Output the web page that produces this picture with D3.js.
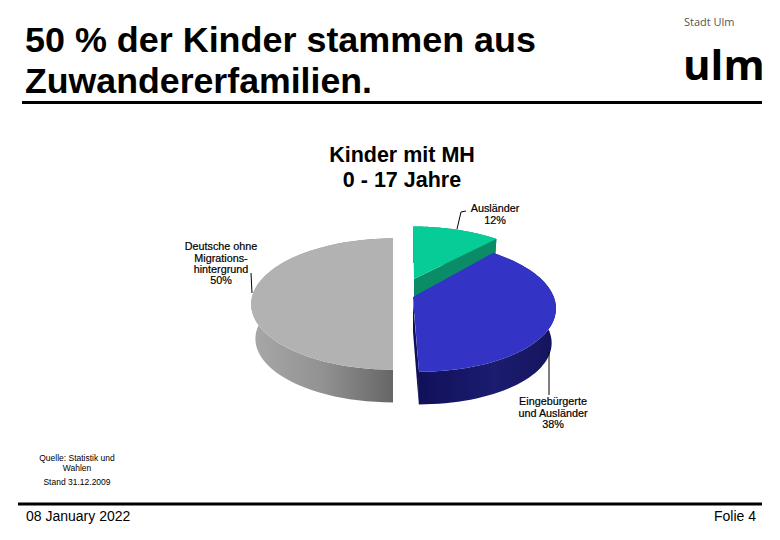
<!DOCTYPE html>
<html><head><meta charset="utf-8">
<script src="https://cdn.jsdelivr.net/npm/d3@7/dist/d3.min.js"></script>
<style>html,body{margin:0;padding:0;background:#fff}svg{display:block}text{font-family:"Liberation Sans",Arial,sans-serif;fill:#000}</style>
</head><body><svg id="c" width="780" height="540"></svg>
<script>
// ---- data ----
const categories = ["Ausländer", "Eingebürgerte und Ausländer", "Deutsche ohne Migrationshintergrund"];
const shares = [12, 38, 50];
const shareLabels = ["12%", "38%", "50%"];
const headingLines = ["50 % der Kinder stammen aus", "Zuwandererfamilien."];
const chartTitleLines = ["Kinder mit MH", "0 - 17 Jahre"];
const sourceLines = ["Quelle: Statistik und", "Wahlen", "Stand 31.12.2009"];
const labelLines = [["Ausländer"], ["Eingebürgerte", "und Ausländer"], ["Deutsche ohne", "Migrations-", "hintergrund"]];
const topColors = ["#06cd98", "#3333c6", "#b2b2b2"];

// ---- layout ----
const svg = d3.select("#c");
const defs = svg.append("defs");
function grad(id, stops){
  const g = defs.append("linearGradient").attr("id", id).attr("x1",0).attr("x2",1).attr("y1",0).attr("y2",0);
  stops.forEach(([o,c])=>g.append("stop").attr("offset",o).attr("stop-color",c));
}
grad("gSide0",[[0,"#0a8c66"],[1,"#0a8c66"]]);
grad("gSide1",[[0,"#10105a"],[0.55,"#1c1c70"],[1,"#14145c"]]);
grad("gSide2",[[0,"#a8a8a8"],[0.5,"#929292"],[1,"#666666"]]);

// perspective model of the exploded pie
const A = 139, B = 63, K = 0.2, DEPTH = 35, SHRINK = 0.97;
const sliceGeom = [
  {cx:414, cy:279, apexDy:0, shear:-1},
  {cx:413, cy:293, apexDy:4, shear:-4.8},
  {cx:393, cy:291, apexDy:0, shear:0}
];
const pie = d3.pie().value(d=>d).sort(null).startAngle(0).endAngle(2*Math.PI);
const arcs = pie(shares);

function rimPoint(g, a, lower){
  const x = Math.sin(a), y = Math.cos(a), w = 1 + K*y, s = lower ? SHRINK : 1;
  return [g.cx + s*(A*x + g.shear*y)/w, g.cy + (lower?DEPTH:0) - s*B*y/w];
}
const line = d3.line();
function rim(g, a0, a1, lower){
  return d3.range(0, 61).map(i => rimPoint(g, a0 + (a1-a0)*i/60, lower));
}

const order = [2, 0, 1];
const pieG = svg.append("g");
order.forEach(i=>{
  const d = arcs[i], g = sliceGeom[i];
  const up = rim(g, d.startAngle, d.endAngle, false);
  const lo = rim(g, d.startAngle, d.endAngle, true);
  const sideFill = "url(#gSide"+i+")";
  // outer wall
  pieG.append("path").attr("d", line(up.concat(lo.slice().reverse()))+"Z").attr("fill", sideFill);
  // cut faces
  const apex = [g.cx, g.cy+g.apexDy], apexLo = [g.cx, g.cy+g.apexDy+DEPTH];
  if(i===0) pieG.append("path").attr("d", line([apex, apexLo, lo[60], up[60]])+"Z").attr("fill","#0a8c66");
  if(i===1) pieG.append("path").attr("d", line([[g.cx,g.cy+8], apexLo, lo[60], up[60]])+"Z").attr("fill","#10105a");
  // top face
  pieG.append("path").attr("d", line([apex].concat(up))+"Z").attr("fill", topColors[i]);
});

// ---- leader lines anchored on labels ----
const leaders = [
  [[466,211],[461,212],[457,229]],
  [[549,352],[549,395]],
  [[251,273],[252,293]]
];
svg.append("g").selectAll("path").data(leaders).join("path")
  .attr("d", d=>line(d)).attr("fill","none").attr("stroke","#000").attr("stroke-width",1);

// ---- labels ----
const labelPos = [{x:495,y:212,dy:[0,12]},{x:553,y:405,dy:[0,12,23]},{x:221,y:250,dy:[0,12,23,34]}];
labelLines.forEach((ls,i)=>{
  const lines = ls.concat([shareLabels[i]]);
  const t = svg.append("text").attr("text-anchor","middle").attr("font-size",10.8)
    .attr("stroke","#000").attr("stroke-width",0.2);
  lines.forEach((s,j)=>t.append("tspan").attr("x",labelPos[i].x).attr("y",labelPos[i].y+labelPos[i].dy[j]).text(s));
});

// chart title
svg.append("g").selectAll("text").data(chartTitleLines).join("text")
  .attr("x",402).attr("y",(d,i)=>162+i*25).attr("text-anchor","middle")
  .attr("font-size",21.5).attr("font-weight","bold").text(d=>d);

// slide heading
svg.append("g").selectAll("text").data(headingLines).join("text")
  .attr("x",25).attr("y",(d,i)=>[52,93][i]).attr("font-size",34.5).attr("font-weight","bold")
  .attr("textLength",(d,i)=>[511,347][i]).attr("lengthAdjust","spacingAndGlyphs").text(d=>d);

// rules
[[22,762,102.5],[18,762,504]].forEach(r=>{
  svg.append("line").attr("x1",r[0]).attr("x2",r[1]).attr("y1",r[2]).attr("y2",r[2]).attr("stroke","#000").attr("stroke-width",3);
});

// logo
svg.append("text").attr("x",684).attr("y",26).attr("font-size",11).style("fill","#555")
  .style("font-family","'Open Sans'").text("Stadt Ulm");
svg.append("text").attr("x",683).attr("y",80).attr("font-size",42).attr("font-weight",700)
  .style("font-family","'Open Sans'").text("ulm");

// source
const srcY = [461,471,485];
svg.append("g").selectAll("text").data(sourceLines).join("text")
  .attr("x",77).attr("y",(d,i)=>srcY[i]).attr("text-anchor","middle").attr("font-size",8.5).text(d=>d);

// footer
svg.append("text").attr("x",26).attr("y",521).attr("font-size",14).text("08 January 2022");
svg.append("text").attr("x",756).attr("y",521).attr("font-size",14).attr("text-anchor","end").text("Folie 4");
</script></body></html>
